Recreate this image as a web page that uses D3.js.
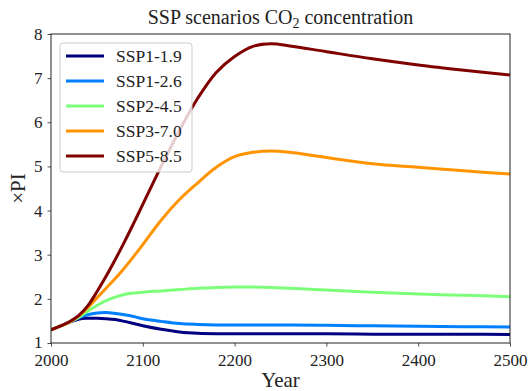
<!DOCTYPE html>
<html>
<head>
<meta charset="utf-8">
<script src="https://cdn.jsdelivr.net/npm/d3@7"></script>
<style>
  body { margin: 0; background: white; }
  svg text { font-family: "Liberation Serif", "Times New Roman", serif; fill: #222; }
</style>
</head>
<body>
<svg id="chart" width="530" height="391"></svg>
<script>
// years sampled along the curves
const years = [2000, 2010, 2020, 2030, 2040, 2050, 2060, 2070, 2080, 2090, 2100,
  2120, 2140, 2160, 2180, 2200, 2220, 2240, 2260, 2300, 2350, 2400, 2450, 2500];

const ssp119 = [1.30, 1.38, 1.47, 1.54, 1.56, 1.56, 1.55, 1.53, 1.49, 1.44, 1.39,
  1.31, 1.25, 1.22, 1.21, 1.21, 1.21, 1.21, 1.21, 1.21, 1.20, 1.20, 1.20, 1.19];
const ssp126 = [1.30, 1.38, 1.47, 1.57, 1.64, 1.68, 1.69, 1.67, 1.64, 1.60, 1.55,
  1.49, 1.44, 1.42, 1.41, 1.41, 1.41, 1.41, 1.41, 1.40, 1.39, 1.38, 1.37, 1.36];
const ssp245 = [1.30, 1.38, 1.47, 1.58, 1.72, 1.85, 1.96, 2.04, 2.10, 2.13, 2.15,
  2.18, 2.21, 2.24, 2.26, 2.27, 2.27, 2.26, 2.24, 2.20, 2.15, 2.11, 2.08, 2.05];
const ssp370 = [1.30, 1.38, 1.47, 1.61, 1.80, 2.02, 2.24, 2.46, 2.70, 2.96, 3.23,
  3.78, 4.25, 4.63, 4.98, 5.22, 5.32, 5.35, 5.32, 5.20, 5.06, 4.98, 4.90, 4.83];
const ssp585 = [1.30, 1.38, 1.48, 1.62, 1.84, 2.16, 2.51, 2.89, 3.29, 3.71, 4.14,
  5.00, 5.82, 6.55, 7.13, 7.49, 7.72, 7.78, 7.73, 7.60, 7.44, 7.30, 7.18, 7.07];

const names = ["SSP1-1.9", "SSP1-2.6", "SSP2-4.5", "SSP3-7.0", "SSP5-8.5"];
const colors = ["#000080", "#0080ff", "#7dff7a", "#ff9400", "#800000"];
const xTicks = [2000, 2100, 2200, 2300, 2400, 2500];
const yTicks = [1, 2, 3, 4, 5, 6, 7, 8];

const series = [ssp119, ssp126, ssp245, ssp370, ssp585].map((vals, i) => ({
  name: names[i], color: colors[i], values: vals.map((v, j) => [years[j], v])
}));

const font = '"Liberation Serif", "Times New Roman", serif';
const svg = d3.select("#chart");
const margin = { top: 34, right: 20, bottom: 48, left: 51 };
const width = 530 - margin.left - margin.right;
const height = 391 - margin.top - margin.bottom;

const g = svg.append("g").attr("transform", `translate(${margin.left},${margin.top})`);

const x = d3.scaleLinear().domain([2000, 2500]).range([0, width]);
const y = d3.scaleLinear().domain([1, 8]).range([height, 0]);

const line = d3.line()
  .x(d => x(d[0]))
  .y(d => y(d[1]))
  .curve(d3.curveCatmullRom.alpha(0.5));

// clip lines to plot area
svg.append("defs").append("clipPath").attr("id", "clip")
  .append("rect").attr("width", width).attr("height", height);

g.append("g").attr("clip-path", "url(#clip)")
  .selectAll("path.series").data(series)
  .join("path")
  .attr("class", "series")
  .attr("d", d => line(d.values))
  .attr("fill", "none")
  .attr("stroke", d => d.color)
  .attr("stroke-width", 3)
  .attr("stroke-linejoin", "round");

// axes
const xAxis = g.append("g")
  .attr("transform", `translate(0,${height})`)
  .call(d3.axisBottom(x).tickValues(xTicks).tickFormat(d3.format("d")).tickSize(3.5).tickPadding(7));
const yAxis = g.append("g")
  .call(d3.axisLeft(y).tickValues(yTicks).tickFormat(d3.format("d")).tickSize(3.5).tickPadding(5));

[xAxis, yAxis].forEach(a => {
  a.attr("font-family", font).attr("font-size", 17);
  a.select(".domain").remove();
  a.selectAll("line").attr("stroke", "#222").attr("stroke-width", 0.8);
  a.selectAll("text").style("font-family", font).style("font-size", "17px").attr("fill", "#222");
});
// keep the lowest y label clear of the first year label
yAxis.selectAll("text").filter(d => d === 1).attr("dy", "0.25em");

// frame
g.append("rect")
  .attr("width", width).attr("height", height)
  .attr("fill", "none").attr("stroke", "#222").attr("stroke-width", 1);

// title
const title = svg.append("text")
  .attr("x", margin.left + width / 2).attr("y", 24)
  .attr("text-anchor", "middle")
  .style("font-family", font)
  .style("font-size", "20px");
title.append("tspan").text("SSP scenarios CO");
title.append("tspan").attr("dy", 4).style("font-size", "14px").text("2");
title.append("tspan").attr("dy", -4).text(" concentration");

// axis labels
svg.append("text")
  .attr("x", margin.left + width / 2).attr("y", 387)
  .attr("text-anchor", "middle")
  .style("font-family", font)
  .style("font-size", "21px")
  .text("Year");

svg.append("text")
  .attr("transform", `translate(25,${margin.top + height / 2}) rotate(-90)`)
  .attr("text-anchor", "middle")
  .style("font-family", font)
  .style("font-size", "21px")
  .text("×PI");

// legend
const legend = g.append("g").attr("transform", "translate(9,9)");
legend.append("rect")
  .attr("width", 132).attr("height", 129)
  .attr("rx", 3)
  .attr("fill", "white").attr("fill-opacity", 0.8)
  .attr("stroke", "#ccc").attr("stroke-width", 1);

const item = legend.selectAll("g.item").data(series)
  .join("g")
  .attr("class", "item")
  .attr("transform", (d, i) => `translate(0,${13 + i * 25})`);

item.append("line")
  .attr("x1", 6).attr("x2", 44)
  .attr("stroke", d => d.color)
  .attr("stroke-width", 3);

item.append("text")
  .attr("x", 56).attr("dy", "0.35em")
  .style("font-family", font)
  .style("font-size", "17.5px")
  .text(d => d.name);
</script>
</body>
</html>
